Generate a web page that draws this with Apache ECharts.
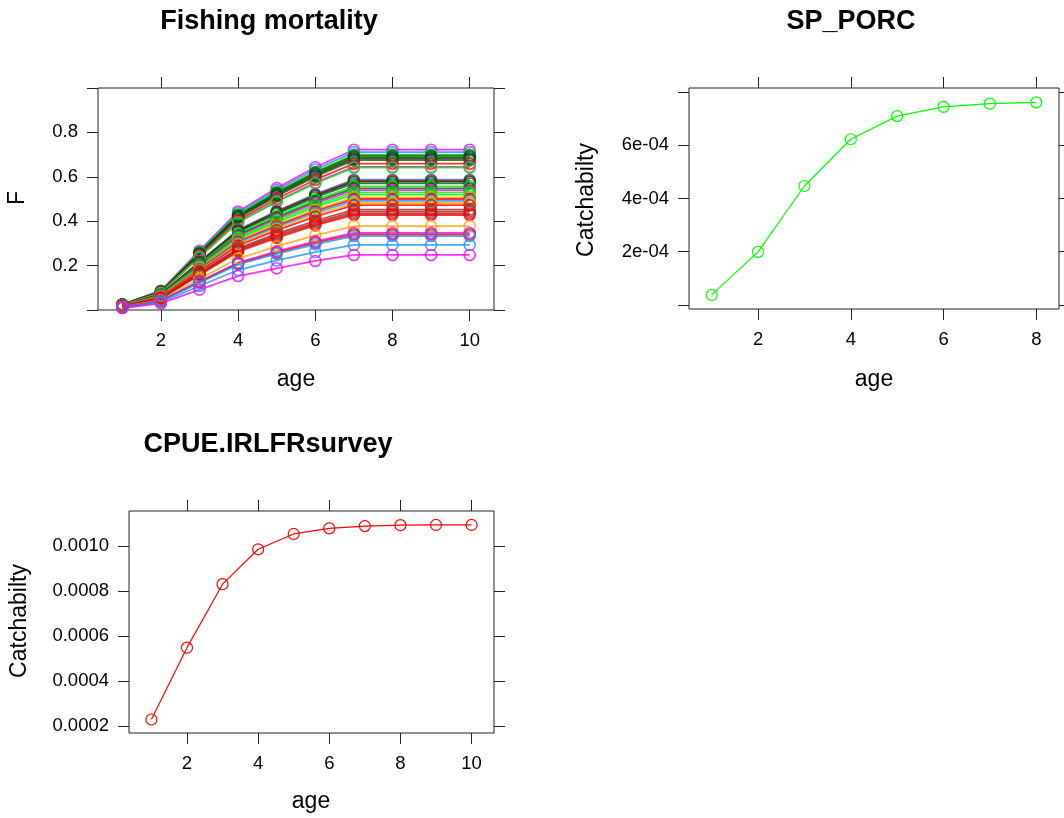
<!DOCTYPE html>
<html><head><meta charset="utf-8">
<script src="https://cdn.jsdelivr.net/npm/echarts@6/dist/echarts.min.js"></script>
<style>html,body{margin:0;padding:0;background:#fff}#c{width:1064px;height:818px}</style>
</head><body><div id="c"></div>
<script>
// ---------- data ----------
const ages10 = [1, 2, 3, 4, 5, 6, 7, 8, 9, 10];
const ages8 = [1, 2, 3, 4, 5, 6, 7, 8];

// Fishing mortality at age, one row per year
const fishingF = [
  [0.025, 0.087, 0.267, 0.444, 0.549, 0.643, 0.722, 0.722, 0.722, 0.722],
  [0.025, 0.085, 0.263, 0.437, 0.540, 0.633, 0.711, 0.711, 0.711, 0.711],
  [0.025, 0.084, 0.259, 0.431, 0.532, 0.623, 0.700, 0.700, 0.700, 0.700],
  [0.024, 0.083, 0.257, 0.427, 0.528, 0.619, 0.695, 0.695, 0.695, 0.695],
  [0.024, 0.083, 0.255, 0.424, 0.524, 0.613, 0.689, 0.689, 0.689, 0.689],
  [0.024, 0.082, 0.252, 0.419, 0.518, 0.607, 0.682, 0.682, 0.682, 0.682],
  [0.024, 0.081, 0.250, 0.415, 0.513, 0.601, 0.675, 0.675, 0.675, 0.675],
  [0.023, 0.079, 0.244, 0.405, 0.501, 0.587, 0.659, 0.659, 0.659, 0.659],
  [0.023, 0.077, 0.239, 0.397, 0.490, 0.574, 0.645, 0.645, 0.645, 0.645],
  [0.022, 0.077, 0.237, 0.394, 0.487, 0.570, 0.641, 0.641, 0.641, 0.641],
  [0.021, 0.070, 0.217, 0.361, 0.446, 0.522, 0.587, 0.587, 0.587, 0.587],
  [0.020, 0.070, 0.216, 0.359, 0.443, 0.519, 0.583, 0.583, 0.583, 0.583],
  [0.020, 0.069, 0.214, 0.355, 0.439, 0.514, 0.578, 0.578, 0.578, 0.578],
  [0.020, 0.068, 0.211, 0.351, 0.433, 0.507, 0.570, 0.570, 0.570, 0.570],
  [0.019, 0.067, 0.206, 0.343, 0.423, 0.496, 0.557, 0.557, 0.557, 0.557],
  [0.019, 0.066, 0.203, 0.337, 0.416, 0.488, 0.548, 0.548, 0.548, 0.548],
  [0.019, 0.065, 0.200, 0.332, 0.410, 0.481, 0.540, 0.540, 0.540, 0.540],
  [0.019, 0.064, 0.196, 0.326, 0.403, 0.472, 0.530, 0.530, 0.530, 0.530],
  [0.018, 0.062, 0.192, 0.320, 0.395, 0.463, 0.520, 0.520, 0.520, 0.520],
  [0.018, 0.061, 0.188, 0.312, 0.385, 0.451, 0.507, 0.507, 0.507, 0.507],
  [0.018, 0.060, 0.185, 0.308, 0.380, 0.445, 0.500, 0.500, 0.500, 0.500],
  [0.017, 0.059, 0.182, 0.303, 0.374, 0.438, 0.492, 0.492, 0.492, 0.492],
  [0.017, 0.058, 0.178, 0.296, 0.366, 0.429, 0.482, 0.482, 0.482, 0.482],
  [0.017, 0.057, 0.175, 0.290, 0.359, 0.420, 0.472, 0.472, 0.472, 0.472],
  [0.016, 0.054, 0.167, 0.278, 0.344, 0.402, 0.452, 0.452, 0.452, 0.452],
  [0.016, 0.053, 0.164, 0.272, 0.337, 0.394, 0.443, 0.443, 0.443, 0.443],
  [0.015, 0.052, 0.161, 0.268, 0.331, 0.387, 0.435, 0.435, 0.435, 0.435],
  [0.015, 0.051, 0.158, 0.263, 0.325, 0.381, 0.428, 0.428, 0.428, 0.428],
  [0.013, 0.045, 0.140, 0.232, 0.287, 0.336, 0.378, 0.378, 0.378, 0.378],
  [0.012, 0.042, 0.128, 0.213, 0.264, 0.309, 0.347, 0.347, 0.347, 0.347],
  [0.012, 0.041, 0.126, 0.209, 0.258, 0.303, 0.340, 0.340, 0.340, 0.340],
  [0.012, 0.040, 0.123, 0.205, 0.253, 0.296, 0.333, 0.333, 0.333, 0.333],
  [0.010, 0.035, 0.108, 0.180, 0.223, 0.261, 0.293, 0.293, 0.293, 0.293],
  [0.009, 0.030, 0.092, 0.153, 0.188, 0.221, 0.248, 0.248, 0.248, 0.248]
];

const spPorcQ = [3.7e-5, 1.99e-4, 4.47e-4, 6.23e-4, 7.10e-4, 7.45e-4, 7.57e-4, 7.62e-4];
const cpueQ = [0.000229, 0.000548, 0.000830, 0.000985, 0.001053, 0.001078, 0.001088, 0.001092, 0.001093, 0.001093];

// tick values / labels
const xTicks10 = [2, 4, 6, 8, 10];
const xTicks8 = [2, 4, 6, 8];
const fTicks = [0, 0.2, 0.4, 0.6, 0.8, 1.0];
const fLabelTicks = [0.2, 0.4, 0.6, 0.8];
const fLabels = ['0.2', '0.4', '0.6', '0.8'];
const spTicks = [0, 2e-4, 4e-4, 6e-4, 8e-4];
const spLabelTicks = [2e-4, 4e-4, 6e-4];
const spLabels = ['2e-04', '4e-04', '6e-04'];
const cpTicks = [0.0002, 0.0004, 0.0006, 0.0008, 0.0010];
const cpLabels = ['0.0002', '0.0004', '0.0006', '0.0008', '0.0010'];

// ---------- styles ----------
const C = {mag:'#FF00FF', blu:'#1E90FF', grn:'#00EE00', dgr:'#006400', blk:'#222222', red:'#FF0000', brk:'#B22222', org:'#FFA500'};
const fColors = [C.mag,C.blu,C.grn,C.dgr,C.dgr,C.blk,C.dgr,C.red,C.mag,C.grn,
  C.blu,C.brk,C.blk,C.dgr,C.grn,C.dgr,C.mag,C.grn,C.grn,C.org,
  C.red,C.blu,C.org,C.red,C.brk,C.brk,C.brk,C.red,C.org,C.mag,
  C.red,C.blu,C.blu,C.mag];

const FONT = 'Liberation Sans, Arial, sans-serif';
const AX = '#222';

function labelFmt(vals, labels) {
  return function (v) {
    for (let i = 0; i < vals.length; i++) if (Math.abs(v - vals[i]) < 1e-9) return labels[i];
    return '';
  };
}
function xAx(grid, min, max, ticks, pos) {
  const bottom = pos === 'bottom';
  return {
    type: 'value', gridIndex: grid, min: min, max: max, position: pos,
    axisLine: {show: false, onZero: false},
    splitLine: {show: false},
    axisTick: {show: true, inside: false, length: 11, lineStyle: {color: AX, width: 1}, customValues: ticks},
    axisLabel: {show: bottom, customValues: ticks, margin: 21, fontSize: 18.5, color: '#000', fontFamily: FONT,
      formatter: function (v) { return String(v); }}
  };
}
function yAx(grid, min, max, ticks, labelTicks, labels, pos) {
  const left = pos === 'left';
  return {
    type: 'value', gridIndex: grid, min: min, max: max, position: pos,
    axisLine: {show: false, onZero: false},
    splitLine: {show: false},
    axisTick: {show: true, inside: false, length: 11, lineStyle: {color: AX, width: 1}, customValues: ticks},
    axisLabel: {show: left, customValues: labelTicks, margin: 20, fontSize: 18.5, color: '#000', fontFamily: FONT,
      formatter: labelFmt(labelTicks, labels)}
  };
}
function pts(xs, ys) { return xs.map((x, i) => [x, ys[i]]); }

const series = [];
fishingF.forEach((row, i) => {
  series.push({
    name: 'F' + (i + 1), type: 'line', xAxisIndex: 0, yAxisIndex: 0,
    data: pts(ages10, row), symbol: 'circle', symbolSize: 11,
    lineStyle: {color: fColors[i], width: 1.8, opacity: 0.8},
    itemStyle: {color: 'rgba(0,0,0,0)', borderColor: fColors[i], borderWidth: 1.6, opacity: 0.8},
    z: 2, silent: true, animation: false
  });
});
series.push({
  name: 'SP_PORC', type: 'line', xAxisIndex: 2, yAxisIndex: 2,
  data: pts(ages8, spPorcQ), symbol: 'circle', symbolSize: 11,
  lineStyle: {color: '#00FF00', width: 1.2},
  itemStyle: {color: 'rgba(0,0,0,0)', borderColor: '#00FF00', borderWidth: 1.2},
  animation: false
});
series.push({
  name: 'CPUE.IRLFRsurvey', type: 'line', xAxisIndex: 4, yAxisIndex: 4,
  data: pts(ages10, cpueQ), symbol: 'circle', symbolSize: 11,
  lineStyle: {color: '#FF0000', width: 1.2},
  itemStyle: {color: 'rgba(0,0,0,0)', borderColor: '#FF0000', borderWidth: 1.2},
  animation: false
});

function txt(text, x, y, size, bold, rot) {
  return {
    type: 'text', x: x, y: y, rotation: rot || 0, silent: true,
    style: {text: text, font: (bold ? 'bold ' : '') + size + 'px ' + FONT, fill: '#000',
      align: 'center', verticalAlign: 'middle', textAlign: 'center', textVerticalAlign: 'middle'}
  };
}

const gridStyle = {show: true, borderColor: AX, borderWidth: 1, backgroundColor: 'transparent', containLabel: false};
const option = {
  animation: false,
  backgroundColor: '#fff',
  grid: [
    Object.assign({left: 98, top: 88, width: 396, height: 222}, gridStyle),
    Object.assign({left: 689, top: 88, width: 370, height: 221}, gridStyle),
    Object.assign({left: 129, top: 511, width: 365, height: 222}, gridStyle)
  ],
  xAxis: [
    xAx(0, 0.37, 10.63, xTicks10, 'bottom'),
    xAx(0, 0.37, 10.63, xTicks10, 'top'),
    xAx(1, 0.51, 8.49, xTicks8, 'bottom'),
    xAx(1, 0.51, 8.49, xTicks8, 'top'),
    xAx(2, 0.37, 10.63, xTicks10, 'bottom'),
    xAx(2, 0.37, 10.63, xTicks10, 'top')
  ],
  yAxis: [
    yAx(0, 0, 1.0, fTicks, fLabelTicks, fLabels, 'left'),
    yAx(0, 0, 1.0, fTicks, fLabelTicks, fLabels, 'right'),
    yAx(1, -1.6e-5, 8.16e-4, spTicks, spLabelTicks, spLabels, 'left'),
    yAx(1, -1.6e-5, 8.16e-4, spTicks, spLabelTicks, spLabels, 'right'),
    yAx(2, 0.000169, 0.001155, cpTicks, cpTicks, cpLabels, 'left'),
    yAx(2, 0.000169, 0.001155, cpTicks, cpTicks, cpLabels, 'right')
  ],
  series: series,
  graphic: [
    txt('Fishing mortality', 269, 22, 27, true),
    txt('SP_PORC', 851, 22, 27, true),
    txt('CPUE.IRLFRsurvey', 268, 445, 27, true),
    txt('age', 296, 380, 23, false),
    txt('age', 874, 380, 23, false),
    txt('age', 311, 802, 23, false),
    txt('F', 18, 198, 23, false, Math.PI / 2),
    txt('Catchabilty', 587, 200, 23, false, Math.PI / 2),
    txt('Catchabilty', 20, 621, 23, false, Math.PI / 2)
  ]
};
const chart = echarts.init(document.getElementById('c'), null, {renderer: 'canvas'});
chart.setOption(option);
</script>
</body></html>
